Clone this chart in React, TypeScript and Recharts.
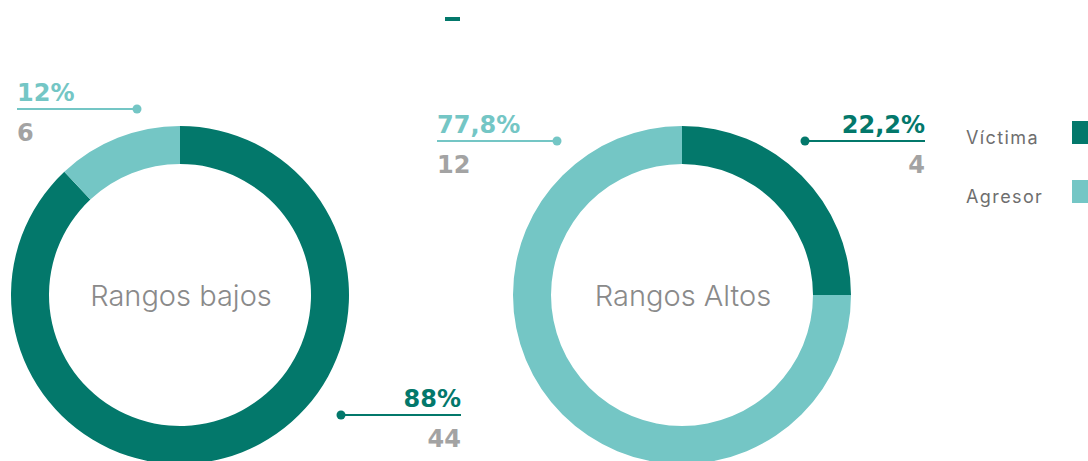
import React from 'react';
import { PieChart, Pie, Cell, Legend } from 'recharts';

const seriesNames = ['Víctima', 'Agresor'];
const colors = ['#03786b', '#74c6c5'];

const bajosValues = [44, 6];
const bajosPercents = ['88%', '12%'];
const bajosCounts = ['44', '6'];

const altosValues = [4, 12];
const altosPercents = ['22,2%', '77,8%'];
const altosCounts = ['4', '12'];

const chartTitles = ['Rangos bajos', 'Rangos Altos'];

const bajosData = seriesNames.map((name, i) => ({ name, value: bajosValues[i] }));
const altosData = seriesNames.map((name, i) => ({ name, value: altosValues[i] }));

// callout layout: dot offset from center, line length, side
type Callout = { dx: number; dy: number; len: number; dir: 1 | -1 };
const bajosCallouts: Callout[] = [
  { dx: 161, dy: 120, len: 120, dir: 1 },
  { dx: -43, dy: -186, len: 120, dir: -1 },
];
const altosCallouts: Callout[] = [
  { dx: 123, dy: -154, len: 120, dir: 1 },
  { dx: -125, dy: -154, len: 120, dir: -1 },
];

const labelFont = "'DejaVu Sans', sans-serif";

const makeLabel = (callouts: Callout[], percents: string[], counts: string[]) => (props: any) => {
  const { cx, cy, index } = props;
  const c = callouts[index];
  const x0 = cx + c.dx;
  const y0 = cy + c.dy;
  const x1 = x0 + c.dir * c.len;
  const anchor = c.dir === 1 ? 'end' : 'start';
  const col = colors[index];
  return (
    <g>
      <line x1={x0} y1={y0} x2={x1} y2={y0} stroke={col} strokeWidth={2} />
      <circle cx={x0} cy={y0} r={4.5} fill={col} />
      <text x={x1} y={y0 - 8} textAnchor={anchor} fill={col} fontSize={24} fontWeight={700} fontFamily={labelFont}>
        {percents[index]}
      </text>
      <text x={x1} y={y0 + 32} textAnchor={anchor} fill="#a3a3a3" fontSize={24} fontWeight={700} fontFamily={labelFont}>
        {counts[index]}
      </text>
    </g>
  );
};

const LegendContent = () => (
  <div style={{ fontFamily: "'Inter', sans-serif" }}>
    {seriesNames.map((n, i) => (
      <div key={n} style={{ position: 'relative', height: 59, width: 130 }}>
        <span style={{ position: 'absolute', left: 0, top: 4, fontSize: 18, color: '#6e6e6e', lineHeight: '24px', fontWeight: 400, letterSpacing: 1.4 }}>{n}</span>
        <span style={{ position: 'absolute', left: 106, top: -1, width: 23, height: 23, background: colors[i] }} />
      </div>
    ))}
  </div>
);

export default function App() {
  return (
    <div style={{ position: 'absolute', left: 0, top: 0, width: 1088, height: 461, overflow: 'hidden', background: '#fff' }}>
      <div style={{ position: 'absolute', left: 445, top: 17, width: 15, height: 4, background: '#03786b' }} />
      <PieChart width={1088} height={461} margin={{ top: 0, right: 0, bottom: 0, left: 0 }}>
        <Pie
          data={bajosData}
          dataKey="value"
          nameKey="name"
          cx={180}
          cy={295}
          innerRadius={131}
          outerRadius={169}
          startAngle={90}
          endAngle={-270}
          stroke="none"
          isAnimationActive={false}
          labelLine={false}
          label={makeLabel(bajosCallouts, bajosPercents, bajosCounts)}
        >
          {bajosData.map((d, i) => (
            <Cell key={d.name} fill={colors[i]} />
          ))}
        </Pie>
        <Pie
          data={altosData}
          dataKey="value"
          nameKey="name"
          cx={682}
          cy={295}
          innerRadius={131}
          outerRadius={169}
          startAngle={90}
          endAngle={-270}
          stroke="none"
          isAnimationActive={false}
          labelLine={false}
          label={makeLabel(altosCallouts, altosPercents, altosCounts)}
        >
          {altosData.map((d, i) => (
            <Cell key={d.name} fill={colors[i]} />
          ))}
        </Pie>
        <text x={181} y={306} textAnchor="middle" fill="#8a8a8a" fontSize={29} fontWeight={300} fontFamily="'Inter', sans-serif">
          {chartTitles[0]}
        </text>
        <text x={683} y={306} textAnchor="middle" fill="#8a8a8a" fontSize={29} fontWeight={300} fontFamily="'Inter', sans-serif">
          {chartTitles[1]}
        </text>
        <Legend
          layout="vertical"
          content={LegendContent}
          wrapperStyle={{ position: 'absolute', left: 966, top: 122, width: 130 }}
        />
      </PieChart>
    </div>
  );
}
